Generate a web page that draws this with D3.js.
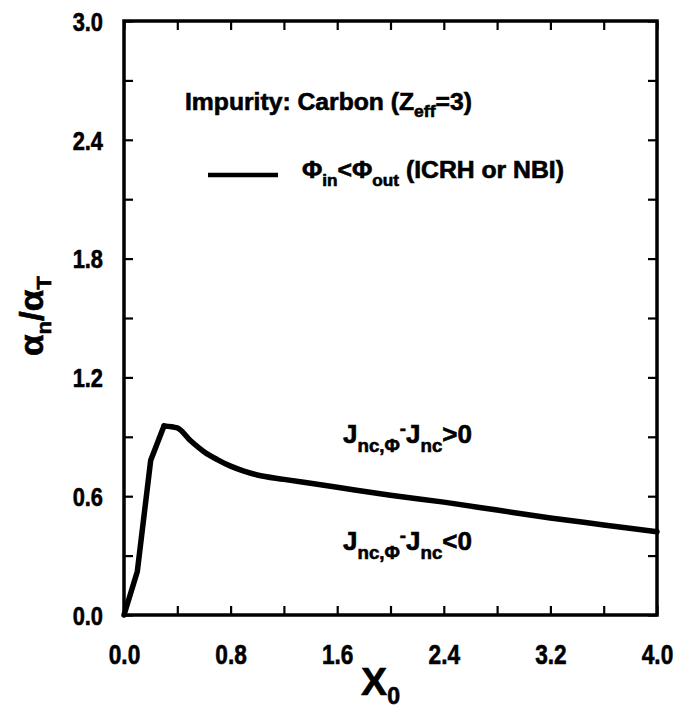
<!DOCTYPE html>
<html>
<head>
<meta charset="utf-8">
<script src="https://cdn.jsdelivr.net/npm/d3@7"></script>
<style>
  html, body { margin: 0; padding: 0; background: #fff; }
  svg text { font-family: "Liberation Sans", Arial, Helvetica, sans-serif; font-weight: bold; fill: #000; stroke: #000; stroke-width: 0.6px; }
</style>
</head>
<body>
<svg id="chart" width="675" height="714"></svg>
<script>
// ---- data ----
const xValues = [0, 0.1, 0.2, 0.3, 0.4, 0.5, 0.6, 0.7, 0.8, 0.9, 1.0, 1.2, 1.4, 1.6, 2.0, 2.4, 2.8, 3.2, 3.6, 4.0];
const yValues = [0.0, 0.22, 0.78, 0.955, 0.945, 0.88, 0.825, 0.785, 0.752, 0.727, 0.707, 0.685, 0.665, 0.645, 0.605, 0.57, 0.53, 0.49, 0.455, 0.42];
const xTicks = [0, 0.4, 0.8, 1.2, 1.6, 2.0, 2.4, 2.8, 3.2, 3.6, 4.0];
const xTickLabels = [0, 0.8, 1.6, 2.4, 3.2, 4.0];
const yTicks = [0, 0.3, 0.6, 0.9, 1.2, 1.5, 1.8, 2.1, 2.4, 2.7, 3.0];
const yTickLabels = [0, 0.6, 1.2, 1.8, 2.4, 3.0];

const svg = d3.select("#chart");
const x = d3.scaleLinear().domain([0, 4]).range([124, 657]);
const y = d3.scaleLinear().domain([0, 3]).range([615, 21]);

const fmt = d3.format(".1f");
const isLabX = v => xTickLabels.some(t => Math.abs(t - v) < 1e-9);
const isLabY = v => yTickLabels.some(t => Math.abs(t - v) < 1e-9);

function styleAxis(g) {
  g.select(".domain").remove();
  g.selectAll(".tick line").attr("stroke", "#000").attr("stroke-width", 2.2);
}

// bottom axis
svg.append("g").attr("transform", `translate(0,${y(0)})`)
  .call(d3.axisBottom(x).tickValues(xTicks).tickSize(-9).tickPadding(30)
    .tickFormat(d => isLabX(d) ? fmt(d) : ""))
  .call(styleAxis)
  .call(g => g.selectAll("text").attr("font-size", 27).attr("dy", 0).attr("y", 0)
    .attr("transform", "translate(0,49) scale(0.84,1)"));

// top axis
svg.append("g").attr("transform", `translate(0,${y(3)})`)
  .call(d3.axisTop(x).tickValues(xTicks).tickSize(-9).tickFormat(""))
  .call(styleAxis);
// left axis
svg.append("g").attr("transform", `translate(${x(0)},0)`)
  .call(d3.axisLeft(y).tickValues(yTicks).tickSize(-9).tickPadding(20)
    .tickFormat(d => isLabY(d) ? fmt(d) : ""))
  .call(styleAxis)
  .call(g => g.selectAll("text").attr("font-size", 26).attr("x", 0).attr("dy", "0.36em")
    .attr("transform", "translate(-21,0) scale(0.84,1)"));
// right axis
svg.append("g").attr("transform", `translate(${x(4)},0)`)
  .call(d3.axisRight(y).tickValues(yTicks).tickSize(-9).tickFormat(""))
  .call(styleAxis);

// frame
svg.append("rect")
  .attr("x", x(0)).attr("y", y(3))
  .attr("width", x(4) - x(0)).attr("height", y(0) - y(3))
  .attr("fill", "none").attr("stroke", "#000").attr("stroke-width", 3.5);

// curve: straight rise, then smooth decay
const pts = xValues.map((v, i) => [v, yValues[i]]);
const rise = pts.filter(d => d[0] <= 0.3 + 1e-9);
const decay = pts.filter(d => d[0] >= 0.3 - 1e-9);
svg.append("path")
  .datum(rise)
  .attr("fill", "none").attr("stroke", "#000").attr("stroke-width", 5.5)
  .attr("stroke-linejoin", "round").attr("stroke-linecap", "round")
  .attr("d", d3.line().x(d => x(d[0])).y(d => y(d[1])));
svg.append("path")
  .datum(decay)
  .attr("fill", "none").attr("stroke", "#000").attr("stroke-width", 5.5)
  .attr("stroke-linejoin", "round").attr("stroke-linecap", "round")
  .attr("d", d3.line().curve(d3.curveMonotoneX).x(d => x(d[0])).y(d => y(d[1])));

// helper: fit text to target width by horizontal scaling
function fitText(sel, xPos, yPos, targetW) {
  const w = sel.node().getComputedTextLength();
  const s = targetW / w;
  sel.attr("transform", `translate(${xPos},${yPos}) scale(${s},1)`);
}

// title
const t1 = svg.append("text").attr("font-size", 24);
t1.append("tspan").text("Impurity: Carbon (Z");
t1.append("tspan").attr("font-size", 17).attr("dy", 7).text("eff");
t1.append("tspan").attr("dy", -7).text("=3)");
fitText(t1, 185, 110, 287);

// legend
svg.append("line").attr("x1", 208).attr("x2", 278).attr("y1", 175).attr("y2", 175)
  .attr("stroke", "#000").attr("stroke-width", 4.5);
const t2 = svg.append("text").attr("font-size", 23);
t2.append("tspan").text("Φ");
t2.append("tspan").attr("font-size", 16).attr("dy", 8).text("in");
t2.append("tspan").attr("dy", -8).text("<Φ");
t2.append("tspan").attr("font-size", 16).attr("dy", 8).text("out");
t2.append("tspan").attr("dy", -8).text(" (ICRH or NBI)");
fitText(t2, 302, 178, 262);

// annotations
function jLabel(xPos, yPos, rel) {
  const t = svg.append("text").attr("font-size", 25);
  t.append("tspan").text("J");
  t.append("tspan").attr("font-size", 18).attr("dy", 9).text("nc,Φ");
  t.append("tspan").attr("font-size", 18).attr("dy", -17).text("-");
  t.append("tspan").attr("dy", 8).text("J");
  t.append("tspan").attr("font-size", 18).attr("dy", 9).text("nc");
  t.append("tspan").attr("dy", -9).text(rel + "0");
  fitText(t, xPos, yPos, 129);
}
jLabel(343, 443, ">");
jLabel(343, 550, "<");

// axis titles
const xt = svg.append("text").attr("font-size", 39);
xt.append("tspan").text("X");
xt.append("tspan").attr("font-size", 23).attr("dy", 9).text("0");
fitText(xt, 361, 695, 39);

const yt = svg.append("text").attr("font-size", 33);
yt.append("tspan").text("α");
yt.append("tspan").attr("font-size", 21).attr("dy", 8).text("n");
yt.append("tspan").attr("dy", -8).text("/α");
yt.append("tspan").attr("font-size", 21).attr("dy", 8).text("T");
{
  const w = yt.node().getComputedTextLength();
  const s = 80 / w;
  yt.attr("transform", `translate(43,356) rotate(-90) scale(${s},1)`);
}
</script>
</body>
</html>
